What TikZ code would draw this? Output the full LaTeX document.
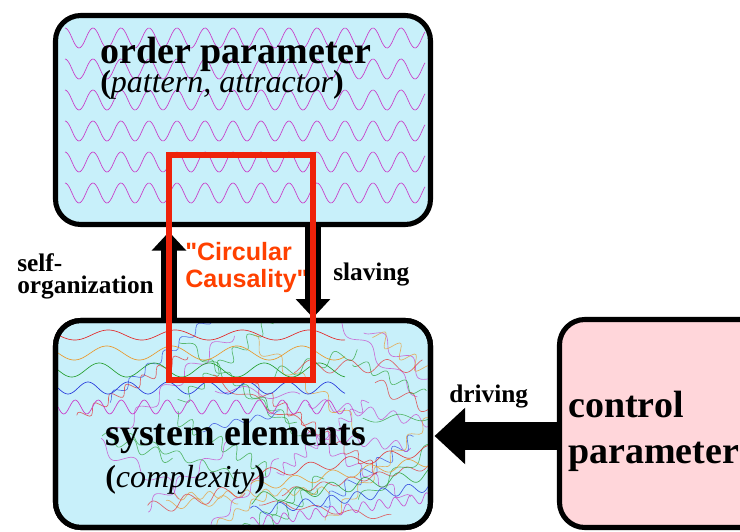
\documentclass[tikz,border=0pt]{standalone}
\usepackage{fontspec}
\setmainfont{Liberation Serif}
\newfontfamily\causfont{Liberation Sans}
\usepackage{tikz}
\usetikzlibrary{positioning, arrows.meta}

\definecolor{boxblue}{RGB}{200,240,250}
\definecolor{boxpink}{RGB}{255,214,218}
\definecolor{loopred}{RGB}{238,34,10}
\definecolor{causorange}{RGB}{255,64,0}
\definecolor{wavemag}{RGB}{200,60,200}
\definecolor{wavered}{RGB}{228,40,40}
\definecolor{waveorange}{RGB}{235,150,40}
\definecolor{wavegreen}{RGB}{40,160,50}
\definecolor{waveblue}{RGB}{40,60,220}

\tikzset{
  panel/.style={rectangle, rounded corners=19pt, line width=3.8pt, draw=black, inner sep=0, outer sep=0},
  boxtitle/.style={anchor=base west, inner sep=0, font=\fontsize{28.5}{30}\selectfont\bfseries},
  boxsub/.style={anchor=base west, inner sep=0, font=\fontsize{24}{26}\selectfont},
  sidetext/.style={anchor=base west, inner sep=0, font=\fontsize{19}{20}\selectfont\bfseries},
  caustext/.style={anchor=base west, inner sep=0, text=causorange, font=\causfont\fontsize{18.8}{20}\selectfont\bfseries},
  thinarrow/.style={line width=12pt, -{Triangle[width=25pt,length=14pt]}},
  fatarrow/.style={line width=21pt, -{Triangle[width=41pt,length=23pt]}},
  wavy/.style={line width=0.5pt},
}

\begin{document}
\begin{tikzpicture}[x=0.75pt, y=-0.75pt]
\useasboundingbox (0,0) rectangle (740,532);

\node[panel, fill=boxblue, minimum width=281.25pt, minimum height=156.75pt] (order) at (243,120) {};
\foreach \r in {0,...,5} {
	\draw[wavy, wavemag] plot[domain=65:425, samples=260] (\x, {38+31*\r-10*cos((\x-65)/28*360)});
};

\node[panel, fill=boxblue, minimum width=281.25pt, minimum height=155.25pt] (system) at (243,424) {};
\begin{scope}
\clip[rounded corners=19pt] (system.south west) rectangle (system.north east);
% disordered waves
\pgfmathsetseed{42}
\pgfmathdeclarerandomlist{wavecols}{{wavered}{waveorange}{wavegreen}{waveblue}{wavemag}}
\foreach \i in {1,...,40} {
	\pgfmathrandomitem{\wc}{wavecols}
	\pgfmathsetmacro{\cx}{130+290*rnd}
	\pgfmathsetmacro{\cy}{350+170*rnd}
	\pgfmathsetmacro{\ang}{-45+90*rnd}
	\pgfmathsetmacro{\len}{35+45*rnd}
	\pgfmathsetmacro{\per}{14+36*rnd}
	\pgfmathsetmacro{\amp}{3+4*rnd}
	\draw[wavy, \wc, opacity=0.7, rotate around={\ang:(\cx,\cy)}] plot[domain=-\len:\len, samples=60] ({\cx+\x}, {\cy+\amp*sin(\x/\per*360)});
};
% ordered waves
\foreach \y/\p/\a/\c in {335/67/5/wavered, 353/65/7/waveorange, 370/55/7/wavegreen, 388/40/6/waveblue, 407/23/7/wavemag} {
	\draw[wavy, \c] plot[domain=58:345, samples=200] (\x, {\y+\a*sin((\x-58)/\p*360)});
};
\foreach \y/\p/\a/\c in {463/40/5/wavered, 474/38/5/waveorange, 487/34/6/wavegreen, 499/26/5/waveblue, 510/16/5/wavemag} {
	\draw[wavy, \c, opacity=0.85, rotate around={8:(340,\y)}] plot[domain=250:440, samples=160] (\x, {\y+\a*sin(\x/\p*360)});
};
\end{scope}
\draw[panel] (system.south west) rectangle (system.north east);

\node[panel, fill=boxpink, minimum width=187.5pt, minimum height=156pt] (control) at (684.5,423.5) {};

\node[boxtitle] (otitle) at (100,63) {order parameter};
\node[boxsub] (osub) at (100,92) {\textbf{(}\textit{pattern, attractor}\textbf{)}};
\node[boxtitle] (stitle) at (105,445) {system elements};
\node[boxsub] (ssub) at (105,487) {\textbf{(}\textit{complexity}\textbf{)}};
\node[boxtitle] (ctitle) at (568,417) {control};
\node[boxtitle] (cparam) at (568,463) {parameter};

\node[sidetext] (lself) at (17,271) {self-};
\node[sidetext] (lorg) at (17,293) {organization};
\node[sidetext] (lslave) at (333,280) {slaving};
\node[sidetext] (ldrive) at (449,402) {driving};
\node[caustext] (lcirc) at (185,260) {"Circular};
\node[caustext] (lcaus) at (185,287) {Causality"};

\coordinate (upx) at (169,155);
\coordinate (dnx) at (313,380);
\coordinate (drv) at (500,436);
\path[draw, thinarrow, shorten >=5.5pt] (upx |- system.north) -- (upx |- order.south);
\path[draw, thinarrow, shorten >=2pt] (dnx |- order.south) -- (dnx |- system.north);
\path[draw, fatarrow, shorten >=3pt] (control.west |- drv) -- (system.east |- drv);

\draw[loopred, line width=3.8pt] (upx) rectangle (dnx);
\end{tikzpicture}
\end{document}
